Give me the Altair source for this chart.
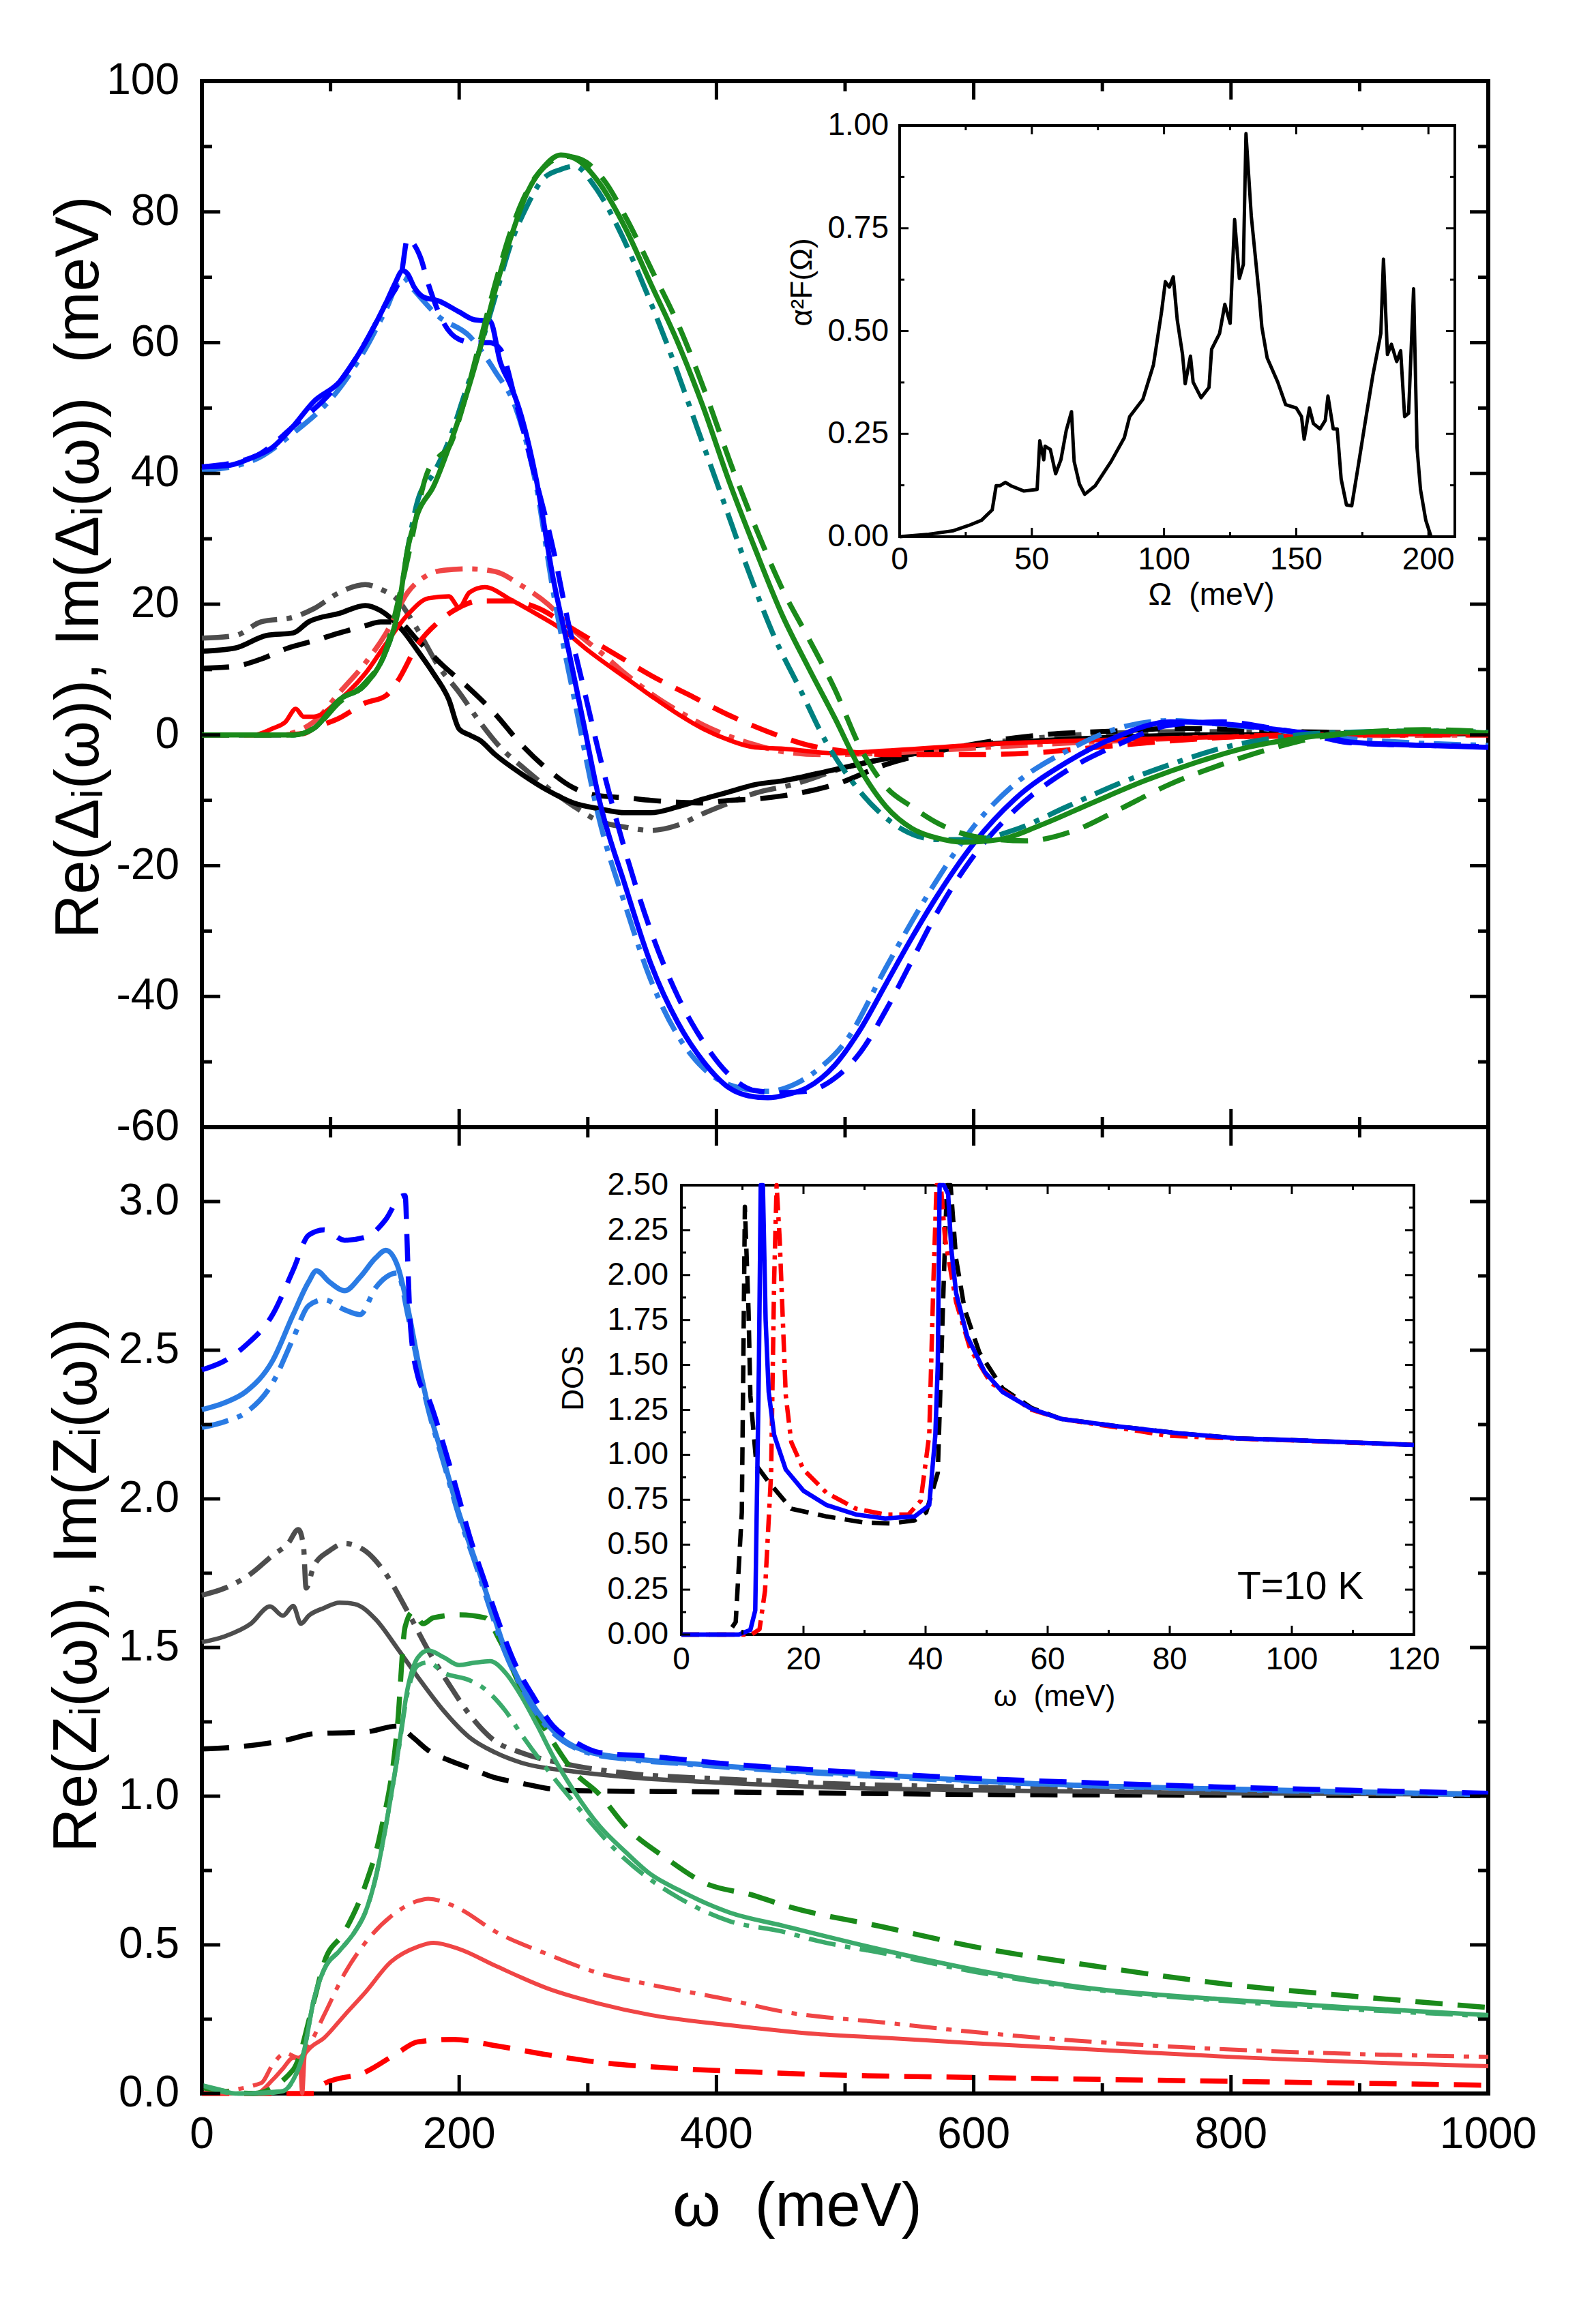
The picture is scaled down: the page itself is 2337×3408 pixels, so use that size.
import altair as alt
import pandas as pd

FONT = "Liberation Sans"
W, H, TOP_H = 1886, 2951, 1534

# ---------------- top panel: Re/Im Delta_i(omega) (meV) ----------------
DB_S_W = [0, 20, 40, 55, 70, 87, 107, 127, 143, 150, 156, 160, 165, 172, 184, 200, 212, 224, 232, 240, 248, 260, 273, 285, 297, 309, 329, 349, 370, 390, 410, 425, 440, 455, 470, 492, 512, 532, 552, 572, 600, 632, 672, 712, 753, 793, 833, 873, 893, 950, 1000]
DB_S = [41, 41.2, 42.5, 44, 47, 51, 54, 60, 66, 69, 71, 70.5, 68.5, 67, 66.4, 64.7, 63.5, 63.3, 57, 53.5, 49, 39, 24, 13, 1.5, -10, -23, -35, -44, -50, -54, -55.2, -55.5, -55, -54, -50.5, -45, -38, -31, -24.5, -16.6, -9.8, -4.2, -0.2, 2, 1.7, 0.9, -0.2, -1.1, -1.6, -1.9]
DB_D_W = [0, 40, 70, 107, 127, 143, 155, 160, 165, 170, 176, 188, 200, 212, 224, 232, 244, 257, 273, 285, 297, 309, 329, 349, 370, 390, 410, 430, 450, 470, 492, 512, 532, 552, 572, 600, 632, 672, 712, 753, 793, 833, 873, 893, 950, 1000]
DB_D = [41, 42.5, 47, 54, 60, 66, 70.5, 76, 75, 73, 69, 63, 60.5, 60, 60, 59, 51, 41, 28.5, 17, 7, -3, -17.7, -30, -40, -47, -52, -54.4, -54.7, -54.5, -52.5, -48.5, -42, -34.5, -27, -18.5, -11.5, -5.5, -1.5, 1.5, 2, 1, -0.5, -1.2, -1.6, -1.8]
DB_DD_W = [0, 40, 70, 107, 127, 143, 156, 165, 184, 208, 228, 244, 260, 273, 289, 309, 329, 349, 370, 390, 410, 440, 460, 480, 500, 532, 552, 572, 600, 632, 672, 712, 753, 793, 833, 873, 1000]
DB_DD = [40.4, 42, 46, 53, 59, 65, 70, 68, 64, 61, 55.6, 50, 38, 22, 6, -13, -26, -37.5, -46, -51, -53.5, -54.5, -53.5, -51, -47, -35.5, -28.5, -22, -14, -7.5, -2.5, 1, 2.2, 1.6, 0.8, -0.2, -1.6]

DG_S_W = [0, 40, 71, 87, 107, 127, 143, 152, 160, 168, 180, 192, 204, 216, 228, 240, 253, 265, 279, 293, 309, 329, 349, 370, 390, 410, 430, 451, 471, 492, 512, 532, 552, 572, 592, 620, 652, 692, 733, 773, 813, 853, 893, 954, 1000]
DG_S = [0, 0, 0, 1, 5.4, 7.7, 12.8, 18.4, 28.5, 34, 38, 44, 51, 59, 68, 76, 83, 86.7, 88.7, 87.8, 84.4, 77.6, 69, 60, 50, 38.7, 28.5, 18.4, 10.5, 2.6, -5.3, -11, -14.3, -15.8, -16.4, -16, -13.8, -10.4, -7, -4.2, -1.9, -0.5, 0.3, 0.6, 0.3]
DG_D_W = [0, 71, 87, 107, 127, 143, 152, 160, 175, 185, 192, 204, 216, 228, 240, 255, 270, 283, 295, 312, 330, 350, 372, 392, 412, 432, 452, 471, 492, 512, 532, 552, 572, 600, 640, 680, 712, 753, 793, 833, 873, 950, 1000]
DG_D = [0, 0, 1, 5, 8, 13, 20, 27, 40, 42.7, 44, 51, 60, 69, 77, 84, 87.5, 88.5, 88, 85, 79, 71, 62, 52, 41, 31, 22, 15, 7, -2, -8, -11, -13.5, -15.5, -16.2, -14.5, -11.5, -7.5, -4.5, -2, -0.2, 0.8, 0.5]
DT_DD_W = [0, 71, 87, 107, 127, 143, 152, 160, 168, 180, 192, 204, 216, 228, 240, 253, 265, 279, 290, 305, 325, 345, 365, 385, 405, 425, 445, 465, 485, 505, 525, 545, 572, 600, 632, 672, 712, 753, 793, 833, 873, 954, 1000]
DT_DD = [0, 0, 1, 5.4, 7.7, 12.8, 18.4, 28.5, 36, 40, 45, 52, 59, 67, 75, 81, 85, 86.5, 87, 84, 77, 68, 58, 47, 36, 25, 15, 7, -1, -7, -11.5, -14.5, -16, -16, -14.5, -11, -7.5, -4.5, -2, -0.5, 0.3, 0.6, 0.4]

DK_S_W = [0, 26, 50, 71, 83, 107, 127, 139, 156, 168, 180, 192, 200, 208, 216, 228, 248, 269, 289, 309, 329, 349, 370, 390, 410, 430, 452, 492, 532, 612, 692, 773, 1000]
DK_S = [12.8, 13.3, 15.2, 15.6, 17.3, 18.6, 19.8, 19, 16, 12.8, 9.4, 5.4, 0.9, 0, -0.8, -3, -5.9, -8.5, -10.4, -11.3, -11.9, -11.9, -11, -9.8, -8.7, -7.6, -7, -5.3, -3.6, -1.4, -0.5, 0, 0.2]
DK_D_W = [0, 26, 46, 67, 87, 107, 127, 139, 152, 168, 188, 208, 228, 248, 269, 289, 309, 329, 349, 370, 390, 410, 430, 452, 492, 532, 572, 612, 652, 712, 760, 850, 1000]
DK_D = [10.2, 10.5, 11.6, 13.3, 14.4, 15.6, 16.7, 17.3, 17.3, 14.4, 10.5, 7.1, 3.2, -1.4, -5.3, -8.1, -9.3, -9.6, -10, -10.3, -10.4, -10, -9.8, -9.3, -7.6, -4.5, -2.5, -1, 0, 0.6, 1, 0.5, 0.2]
DK_DD_W = [0, 26, 46, 71, 87, 107, 127, 139, 152, 168, 184, 200, 216, 232, 248, 269, 289, 309, 329, 349, 370, 390, 410, 430, 459, 500, 550, 600, 680, 760, 1000]
DK_DD = [14.8, 15.2, 17.3, 18, 19.3, 21.8, 23, 22.3, 20.7, 16, 10.5, 6.5, 2, -1.9, -4.7, -8.1, -10.9, -13.2, -14.1, -14.6, -13.8, -12, -10.4, -8.9, -7.6, -5, -3, -1.5, 0, 0.5, 0.2]

DR_S_W = [0, 40, 55, 65, 73, 79, 87, 107, 127, 143, 160, 176, 192, 200, 208, 220, 240, 261, 281, 301, 329, 349, 370, 390, 410, 430, 452, 492, 532, 612, 692, 800, 1000]
DR_S = [0, 0, 1, 2, 4, 2.8, 2.8, 5.4, 9.4, 13.9, 18.4, 20.9, 21.2, 19.5, 21.8, 22.6, 20.7, 18.4, 16, 12.8, 8.8, 6, 3.2, 0.9, -0.8, -1.9, -2.1, -2.8, -2.4, -1.4, -0.8, -0.3, 0.3]
DR_D_W = [0, 60, 79, 87, 107, 127, 143, 152, 168, 184, 200, 216, 240, 260, 290, 320, 350, 380, 410, 440, 470, 500, 530, 560, 600, 650, 700, 760, 850, 1000]
DR_D = [0, 0, 0.2, 1, 2.6, 4.9, 6, 8.2, 13.9, 17.3, 19.5, 20.5, 20.5, 19.5, 16, 12.5, 9, 6, 3, 0.5, -1.5, -2.5, -3, -3, -3, -2.7, -1.8, -0.8, 0, 0]
DR_DD_W = [0, 60, 87, 107, 127, 143, 160, 176, 188, 208, 228, 248, 269, 289, 309, 329, 350, 370, 390, 410, 430, 450, 480, 530, 600, 700, 800, 1000]
DR_DD = [0, 0, 2, 6.5, 11, 15.5, 21.8, 24.5, 25.2, 25.4, 25, 22.9, 20, 16, 12.8, 9.4, 6.2, 3.7, 1.5, -0.2, -1.5, -2.5, -3, -2.8, -2, -1, -0.3, 0]

# ---------------- bottom panel: Re/Im Z_i(omega) ----------------
ZB_D_W = [0, 18, 34, 55, 71, 83, 95, 111, 127, 143, 154, 158, 160, 162, 168, 176, 188, 200, 208, 220, 232, 244, 257, 273, 289, 309, 349, 410, 478, 532, 600, 692, 800, 893, 1000]
ZB_D = [2.434, 2.465, 2.516, 2.62, 2.77, 2.887, 2.905, 2.87, 2.88, 2.94, 3.015, 3.02, 2.8, 2.59, 2.41, 2.34, 2.18, 2.0, 1.876, 1.72, 1.57, 1.44, 1.34, 1.236, 1.185, 1.147, 1.134, 1.108, 1.088, 1.075, 1.06, 1.045, 1.03, 1.02, 1.01]
ZB_S_W = [0, 18, 34, 55, 71, 83, 89, 99, 111, 123, 135, 143, 152, 160, 168, 176, 188, 200, 212, 224, 236, 248, 265, 281, 297, 329, 370, 451, 532, 600, 692, 800, 893, 1000]
ZB_S = [2.30, 2.324, 2.36, 2.465, 2.62, 2.73, 2.767, 2.73, 2.70, 2.746, 2.81, 2.836, 2.785, 2.644, 2.465, 2.31, 2.13, 1.95, 1.80, 1.646, 1.49, 1.377, 1.26, 1.19, 1.154, 1.129, 1.113, 1.088, 1.07, 1.052, 1.035, 1.024, 1.015, 1.006]
ZB_DD_W = [0, 18, 34, 55, 71, 83, 95, 111, 123, 135, 152, 160, 168, 176, 188, 200, 212, 224, 236, 248, 265, 281, 297, 329, 370, 451, 600, 800, 1000]
ZB_DD = [2.24, 2.26, 2.29, 2.39, 2.54, 2.65, 2.67, 2.636, 2.62, 2.71, 2.76, 2.62, 2.45, 2.30, 2.12, 1.94, 1.79, 1.63, 1.48, 1.37, 1.25, 1.185, 1.15, 1.125, 1.11, 1.085, 1.05, 1.022, 1.005]

ZK_S_W = [0, 18, 38, 53, 63, 71, 77, 83, 95, 107, 119, 135, 152, 168, 188, 208, 228, 248, 289, 329, 410, 478, 600, 800, 1000]
ZK_S = [1.518, 1.538, 1.58, 1.638, 1.607, 1.64, 1.58, 1.607, 1.633, 1.651, 1.646, 1.595, 1.497, 1.40, 1.287, 1.198, 1.147, 1.113, 1.083, 1.065, 1.044, 1.031, 1.02, 1.01, 1.005]
ZK_DD_W = [0, 18, 38, 55, 67, 75, 79, 81, 87, 99, 111, 127, 143, 160, 176, 192, 208, 228, 248, 289, 329, 410, 478, 600, 800, 1000]
ZK_DD = [1.676, 1.70, 1.748, 1.81, 1.85, 1.897, 1.84, 1.70, 1.774, 1.825, 1.85, 1.825, 1.748, 1.62, 1.49, 1.377, 1.275, 1.185, 1.147, 1.103, 1.078, 1.057, 1.044, 1.03, 1.015, 1.008]
ZK_D_W = [0, 26, 67, 87, 127, 152, 164, 176, 192, 208, 228, 248, 269, 289, 410, 478, 600, 1000]
ZK_D = [1.159, 1.165, 1.19, 1.21, 1.216, 1.236, 1.198, 1.154, 1.121, 1.095, 1.062, 1.044, 1.026, 1.019, 1.014, 1.011, 1.006, 1.002]

ZG_S_W = [0, 14, 26, 46, 63, 71, 79, 87, 95, 107, 119, 127, 135, 143, 152, 160, 168, 176, 188, 200, 212, 224, 236, 248, 261, 273, 289, 309, 329, 349, 370, 410, 451, 532, 600, 692, 800, 893, 1000]
ZG_S = [0.028, 0.013, 0, 0, 0.008, 0.046, 0.136, 0.315, 0.417, 0.48, 0.545, 0.609, 0.724, 0.90, 1.134, 1.364, 1.467, 1.49, 1.467, 1.441, 1.449, 1.454, 1.415, 1.339, 1.236, 1.134, 1.019, 0.90, 0.814, 0.737, 0.686, 0.609, 0.565, 0.48, 0.417, 0.353, 0.315, 0.289, 0.264]
ZG_D_W = [0, 40, 71, 87, 95, 111, 127, 139, 152, 158, 164, 172, 180, 200, 220, 232, 248, 269, 289, 309, 329, 362, 390, 430, 451, 532, 600, 692, 800, 893, 1000]
ZG_D = [0.02, 0, 0.08, 0.31, 0.44, 0.545, 0.70, 0.88, 1.236, 1.57, 1.62, 1.58, 1.6, 1.61, 1.6, 1.52, 1.364, 1.21, 1.083, 1.006, 0.90, 0.788, 0.71, 0.665, 0.635, 0.558, 0.494, 0.43, 0.366, 0.328, 0.289]
ZG_DD_W = [0, 26, 63, 71, 79, 87, 95, 107, 119, 127, 135, 143, 152, 160, 168, 176, 188, 208, 220, 236, 248, 289, 329, 370, 410, 451, 478, 532, 600, 692, 800, 1000]
ZG_DD = [0.028, 0, 0.008, 0.046, 0.136, 0.315, 0.417, 0.48, 0.545, 0.609, 0.724, 0.90, 1.13, 1.35, 1.44, 1.45, 1.415, 1.39, 1.36, 1.287, 1.21, 0.98, 0.788, 0.66, 0.58, 0.545, 0.514, 0.47, 0.41, 0.35, 0.31, 0.26]

ZR_S_W = [0, 42, 55, 63, 71, 76, 78, 80, 83, 95, 111, 127, 147, 168, 180, 200, 228, 269, 309, 349, 410, 478, 532, 600, 692, 800, 1000]
ZR_S = [0, 0, 0.046, 0.084, 0.12, 0.12, 0.0, 0.13, 0.148, 0.187, 0.264, 0.34, 0.443, 0.494, 0.507, 0.486, 0.43, 0.353, 0.302, 0.264, 0.23, 0.2, 0.187, 0.169, 0.148, 0.123, 0.092]
ZR_DD_W = [0, 46, 55, 65, 75, 83, 95, 111, 127, 147, 168, 176, 200, 228, 269, 309, 349, 410, 451, 532, 600, 692, 800, 1000]
ZR_DD = [0, 0.035, 0.097, 0.136, 0.12, 0.16, 0.264, 0.404, 0.507, 0.596, 0.648, 0.655, 0.622, 0.545, 0.468, 0.404, 0.366, 0.315, 0.276, 0.238, 0.207, 0.174, 0.148, 0.123]
ZR_D_W = [0, 87, 95, 127, 152, 168, 196, 228, 269, 309, 370, 430, 478, 600, 800, 1000]
ZR_D = [0, 0, 0.033, 0.072, 0.136, 0.174, 0.182, 0.161, 0.13, 0.105, 0.084, 0.072, 0.064, 0.054, 0.041, 0.028]

# ---------------- inset 1: alpha^2 F(Omega) ----------------
OMEGA = [0, 11, 20, 26, 31, 35, 36.5, 38, 40, 42, 47, 52, 53, 54.5, 55, 57, 59, 61, 63, 65, 66, 68, 70, 74, 80, 85, 87, 92, 96, 99, 100.5, 102, 103.5, 105, 107, 108, 110, 111, 114, 117, 118, 121, 123, 125, 126.7, 128.5, 130, 131, 133, 136, 137, 139, 143, 146, 150, 152, 153, 155, 156.5, 159, 161, 162, 164, 165.5, 167, 169, 171, 173.5, 176, 179, 182, 183, 184.5, 186, 188, 189.5, 191, 192.5, 194.4, 195.7, 197, 199, 201]
A2F = [0, 0.006, 0.014, 0.027, 0.04, 0.065, 0.124, 0.124, 0.132, 0.124, 0.111, 0.115, 0.233, 0.187, 0.22, 0.212, 0.153, 0.187, 0.258, 0.304, 0.183, 0.128, 0.103, 0.124, 0.183, 0.241, 0.292, 0.334, 0.418, 0.544, 0.62, 0.607, 0.632, 0.527, 0.443, 0.372, 0.439, 0.376, 0.338, 0.363, 0.456, 0.494, 0.565, 0.519, 0.771, 0.628, 0.662, 0.98, 0.78, 0.586, 0.51, 0.435, 0.376, 0.321, 0.313, 0.292, 0.237, 0.313, 0.275, 0.262, 0.283, 0.342, 0.262, 0.262, 0.14, 0.077, 0.075, 0.174, 0.275, 0.393, 0.494, 0.675, 0.443, 0.468, 0.426, 0.452, 0.292, 0.30, 0.603, 0.216, 0.115, 0.04, 0]

# ---------------- inset 2: DOS at T=10 K ----------------
DOS_W_BLUE = [0, 9.4, 11.3, 12.1, 12.7, 13.0, 13.35, 13.8, 14.3, 15.2, 17.1, 20, 23.8, 28.6, 33.4, 38.2, 40.6, 41.6, 42.0, 42.3, 43.0, 43.7, 44.2, 45, 46.8, 49.7, 52.6, 57.4, 62.2, 71.8, 81.4, 91, 100.6, 120]
DOS_BLUE = [0, 0, 0.026, 0.135, 1.5, 3.5, 2.5, 1.75, 1.35, 1.11, 0.918, 0.80, 0.72, 0.668, 0.646, 0.657, 0.72, 1.11, 1.5, 2.6, 3.5, 2.45, 2.15, 1.9, 1.66, 1.46, 1.35, 1.255, 1.2, 1.157, 1.12, 1.092, 1.081, 1.055]
DOS_W_BLACK = [0, 7.5, 8.9, 9.9, 10.4, 11.0, 11.3, 12.3, 14.2, 18, 23.8, 29.8, 34.4, 38.2, 40.1, 42, 43, 43.5, 44.1, 45, 46.4, 48.8, 52.6, 57.4, 62.2, 71.8, 81.4, 91, 100.6, 120]
DOS_BLACK = [0, 0, 0.07, 0.68, 2.38, 1.8, 1.33, 0.94, 0.853, 0.70, 0.657, 0.624, 0.618, 0.635, 0.68, 0.9, 1.99, 3.0, 3.0, 2.09, 1.81, 1.57, 1.37, 1.26, 1.2, 1.157, 1.12, 1.092, 1.081, 1.055]
DOS_W_RED = [0, 11.5, 12.8, 13.7, 14.7, 15.2, 15.6, 16.1, 17.1, 18, 20, 23.8, 28.6, 33.4, 37.2, 39.2, 40.6, 41.3, 41.8, 42.5, 43.2, 45, 47.3, 50.7, 57.4, 62.2, 71.8, 79.5, 91, 100.6, 120]
DOS_RED = [0, 0, 0.03, 0.244, 0.9, 1.98, 3.2, 2.2, 1.33, 1.07, 0.918, 0.788, 0.70, 0.668, 0.668, 0.744, 1.11, 1.98, 3.2, 3.0, 2.2, 1.85, 1.59, 1.40, 1.25, 1.2, 1.15, 1.107, 1.09, 1.08, 1.055]

# ---------------- ticks and labels ----------------
X_MAJOR = [0, 200, 400, 600, 800, 1000]
X_MINOR = [100, 300, 500, 700, 900]
TOP_MAJOR = [-60, -40, -20, 0, 20, 40, 60, 80, 100]
TOP_MINOR = [-50, -30, -10, 10, 30, 50, 70, 90]
BOT_MAJOR = [0, 0.5, 1.0, 1.5, 2.0, 2.5, 3.0]
BOT_LABELS = ["0.0", "0.5", "1.0", "1.5", "2.0", "2.5", "3.0"]
BOT_MINOR = [0.25, 0.75, 1.25, 1.75, 2.25, 2.75]
IN1_X_MAJOR = [0, 50, 100, 150, 200]
IN1_X_MINOR = [25, 75, 125, 175]
IN1_Y_MAJOR = [0, 0.25, 0.5, 0.75, 1.0]
IN1_Y_LABELS = ["0.00", "0.25", "0.50", "0.75", "1.00"]
IN1_Y_MINOR = [0.125, 0.375, 0.625, 0.875]
IN2_X_MAJOR = [0, 20, 40, 60, 80, 100, 120]
IN2_X_MINOR = [10, 30, 50, 70, 90, 110]
IN2_Y_MAJOR = [0, 0.25, 0.5, 0.75, 1.0, 1.25, 1.5, 1.75, 2.0, 2.25, 2.5]
IN2_Y_LABELS = ["0.00", "0.25", "0.50", "0.75", "1.00", "1.25", "1.50", "1.75", "2.00", "2.25", "2.50"]
IN2_Y_MINOR = [0.125, 0.375, 0.625, 0.875, 1.125, 1.375, 1.625, 1.875, 2.125, 2.375]

DASH = [40, 22]
DASHDOT = [40, 14, 8, 14]
IN_DASH = [26, 14]
IN_DASHDOT = [26, 10, 6, 10]

# ---------------- scales (pixel ranges place panels & insets) ----------------
x_main = alt.Scale(domain=[0, 1000], range=[0, W], nice=False, zero=False)
y_top = alt.Scale(domain=[-60, 100], range=[TOP_H, 0], nice=False, zero=False)
y_bot = alt.Scale(domain=[0, 3.25], range=[H, TOP_H], nice=False, zero=False)
I1X0, I1X1, I1Y0, I1Y1 = 1023, 1837, 668, 65
I2X0, I2X1, I2Y0, I2Y1 = 703, 1777, 2278, 1619
x_in1 = alt.Scale(domain=[0, 210], range=[I1X0, I1X1], nice=False, zero=False)
y_in1 = alt.Scale(domain=[0, 1], range=[I1Y0, I1Y1], nice=False, zero=False)
x_in2 = alt.Scale(domain=[0, 120], range=[I2X0, I2X1], nice=False, zero=False)
y_in2 = alt.Scale(domain=[0, 2.5], range=[I2Y0, I2Y1], nice=False, zero=False, clamp=True)


def line(xs, ys, xsc, ysc, color, width, dash=None, interp="monotone"):
    df = pd.DataFrame({"x": xs, "y": ys})
    kw = dict(color=color, strokeWidth=width, interpolate=interp, strokeCap="butt", strokeJoin="round")
    if dash is not None:
        kw["strokeDash"] = dash
    return alt.Chart(df).mark_line(**kw).encode(
        x=alt.X("x:Q", scale=xsc, axis=None), y=alt.Y("y:Q", scale=ysc, axis=None))


def hticks(vals, ysc, x0, x1, w):
    df = pd.DataFrame({"v": vals})
    return alt.Chart(df).mark_rule(color="black", strokeWidth=w).encode(
        y=alt.Y("v:Q", scale=ysc, axis=None), x=alt.value(x0), x2=alt.value(x1))


def vticks(vals, xsc, y0, y1, w):
    df = pd.DataFrame({"v": vals})
    return alt.Chart(df).mark_rule(color="black", strokeWidth=w).encode(
        x=alt.X("v:Q", scale=xsc, axis=None), y=alt.value(y0), y2=alt.value(y1))


def ylabels(vals, texts, ysc, xpos, size):
    df = pd.DataFrame({"v": vals, "t": texts})
    return alt.Chart(df).mark_text(align="right", baseline="middle", font=FONT, fontSize=size, color="black").encode(
        y=alt.Y("v:Q", scale=ysc, axis=None), x=alt.value(xpos), text="t:N")


def xlabels(vals, texts, xsc, ypos, size):
    df = pd.DataFrame({"v": vals, "t": texts})
    return alt.Chart(df).mark_text(align="center", baseline="middle", font=FONT, fontSize=size, color="black").encode(
        x=alt.X("v:Q", scale=xsc, axis=None), y=alt.value(ypos), text="t:N")


def free_text(text, x, y, size, angle=0, align="center"):
    df = pd.DataFrame({"t": [text]})
    kw = dict(align=align, baseline="middle", font=FONT, fontSize=size, color="black")
    if angle:
        kw["angle"] = angle
    return alt.Chart(df).mark_text(**kw).encode(text="t:N", x=alt.value(x), y=alt.value(y))


def frame(xsc, ysc, x0, x1, y0, y1, sw):
    df = pd.DataFrame({"a": [x0], "b": [x1], "c": [y0], "d": [y1]})
    return alt.Chart(df).mark_rect(fill="white", stroke="black", strokeWidth=sw).encode(
        x=alt.X("a:Q", scale=xsc, axis=None), x2="b:Q",
        y=alt.Y("c:Q", scale=ysc, axis=None), y2="d:Q")


BLUE = "#0000FF"
LBLUE = "#2A7BE4"
GREEN = "#1A8A1A"
TEAL = "#00807F"
GRAY = "#4D4D4D"
RED = "#FF0000"
LRED = "#F04545"
MGREEN = "#3BAA6B"

LW = 7.5
NBSP = "\u00a0"

# ---------------- top panel layer ----------------
top = alt.layer(
    line(DK_DD_W, DK_DD, x_main, y_top, GRAY, LW, DASHDOT),
    line(DK_D_W, DK_D, x_main, y_top, "black", LW, DASH),
    line(DK_S_W, DK_S, x_main, y_top, "black", LW),
    line(DR_DD_W, DR_DD, x_main, y_top, LRED, LW, DASHDOT),
    line(DR_D_W, DR_D, x_main, y_top, RED, LW, DASH),
    line(DR_S_W, DR_S, x_main, y_top, RED, 6.5),
    line(DB_DD_W, DB_DD, x_main, y_top, LBLUE, LW, DASHDOT),
    line(DB_D_W, DB_D, x_main, y_top, BLUE, LW, DASH),
    line(DB_S_W, DB_S, x_main, y_top, BLUE, LW),
    line(DT_DD_W, DT_DD, x_main, y_top, TEAL, LW, DASHDOT),
    line(DG_D_W, DG_D, x_main, y_top, GREEN, LW, DASH),
    line(DG_S_W, DG_S, x_main, y_top, GREEN, LW),
    hticks([-60], y_top, 0, W, 6),
    hticks(TOP_MAJOR, y_top, 0, 27, 5),
    hticks(TOP_MINOR, y_top, 0, 15, 5),
    hticks(TOP_MAJOR, y_top, W, W - 27, 5),
    hticks(TOP_MINOR, y_top, W, W - 15, 5),
    vticks(X_MAJOR, x_main, 0, 27, 5),
    vticks(X_MINOR, x_main, 0, 15, 5),
    vticks(X_MAJOR, x_main, TOP_H, TOP_H - 27, 5),
    vticks(X_MINOR, x_main, TOP_H, TOP_H - 15, 5),
    ylabels(TOP_MAJOR, [str(v) for v in TOP_MAJOR], y_top, -33, 64),
    free_text("Re(Δᵢ(ω)), Im(Δᵢ(ω))" + NBSP + NBSP + "(meV)", -179, 713, 90, angle=270),
)

# ---------------- bottom panel layer ----------------
bot = alt.layer(
    line(ZR_D_W, ZR_D, x_main, y_bot, RED, LW, DASH),
    line(ZR_DD_W, ZR_DD, x_main, y_bot, LRED, 6, DASHDOT),
    line(ZR_S_W, ZR_S, x_main, y_bot, LRED, 6),
    line(ZK_D_W, ZK_D, x_main, y_bot, "black", LW, DASH),
    line(ZK_DD_W, ZK_DD, x_main, y_bot, GRAY, LW, DASHDOT),
    line(ZK_S_W, ZK_S, x_main, y_bot, GRAY, 6.5),
    line(ZG_D_W, ZG_D, x_main, y_bot, GREEN, LW, DASH),
    line(ZG_DD_W, ZG_DD, x_main, y_bot, MGREEN, 6.5, DASHDOT),
    line(ZG_S_W, ZG_S, x_main, y_bot, MGREEN, 6.5),
    line(ZB_DD_W, ZB_DD, x_main, y_bot, LBLUE, LW, DASHDOT),
    line(ZB_S_W, ZB_S, x_main, y_bot, LBLUE, LW),
    line(ZB_D_W, ZB_D, x_main, y_bot, BLUE, LW, DASH),
    hticks(BOT_MAJOR, y_bot, 0, 27, 5),
    hticks(BOT_MINOR, y_bot, 0, 15, 5),
    hticks(BOT_MAJOR, y_bot, W, W - 27, 5),
    hticks(BOT_MINOR, y_bot, W, W - 15, 5),
    vticks(X_MAJOR, x_main, TOP_H, TOP_H + 27, 5),
    vticks(X_MINOR, x_main, TOP_H, TOP_H + 15, 5),
    vticks(X_MAJOR, x_main, H, H - 27, 5),
    vticks(X_MINOR, x_main, H, H - 15, 5),
    ylabels(BOT_MAJOR, BOT_LABELS, y_bot, -33, 64),
    xlabels(X_MAJOR, [str(v) for v in X_MAJOR], x_main, 3012, 64),
    free_text("Re(Zᵢ(ω)), Im(Zᵢ(ω))", -182, 2206, 90, angle=270),
    free_text("ω" + NBSP + NBSP + "(meV)", 873, 3118, 90),
)

# ---------------- inset 1 layer ----------------
in1 = alt.layer(
    frame(x_in1, y_in1, 0, 210, 0, 1, 4),
    line(OMEGA, A2F, x_in1, y_in1, "black", 5, interp="linear"),
    hticks(IN1_Y_MAJOR, y_in1, I1X0, I1X0 + 13, 3),
    hticks(IN1_Y_MINOR, y_in1, I1X0, I1X0 + 7, 3),
    hticks(IN1_Y_MAJOR, y_in1, I1X1, I1X1 - 13, 3),
    hticks(IN1_Y_MINOR, y_in1, I1X1, I1X1 - 7, 3),
    vticks(IN1_X_MAJOR, x_in1, I1Y0, I1Y0 - 13, 3),
    vticks(IN1_X_MINOR, x_in1, I1Y0, I1Y0 - 7, 3),
    vticks(IN1_X_MAJOR, x_in1, I1Y1, I1Y1 + 13, 3),
    vticks(IN1_X_MINOR, x_in1, I1Y1, I1Y1 + 7, 3),
    ylabels(IN1_Y_MAJOR, IN1_Y_LABELS, y_in1, I1X0 - 16, 46),
    xlabels(IN1_X_MAJOR, [str(v) for v in IN1_X_MAJOR], x_in1, 702, 46),
    free_text("Ω" + NBSP + NBSP + "(meV)", 1480, 754, 46),
    free_text("α²F(Ω)", 881, 295, 44, angle=270),
)

# ---------------- inset 2 layer ----------------
in2 = alt.layer(
    frame(x_in2, y_in2, 0, 120, 0, 2.5, 4),
    line(DOS_W_BLACK, DOS_BLACK, x_in2, y_in2, "black", 6.5, IN_DASH, interp="linear"),
    line(DOS_W_RED, DOS_RED, x_in2, y_in2, RED, 6.5, IN_DASHDOT, interp="linear"),
    line(DOS_W_BLUE, DOS_BLUE, x_in2, y_in2, BLUE, 6.5, interp="linear"),
    hticks(IN2_Y_MAJOR, y_in2, I2X0, I2X0 + 13, 3),
    hticks(IN2_Y_MINOR, y_in2, I2X0, I2X0 + 7, 3),
    hticks(IN2_Y_MAJOR, y_in2, I2X1, I2X1 - 13, 3),
    hticks(IN2_Y_MINOR, y_in2, I2X1, I2X1 - 7, 3),
    vticks(IN2_X_MAJOR, x_in2, I2Y0, I2Y0 - 13, 3),
    vticks(IN2_X_MINOR, x_in2, I2Y0, I2Y0 - 7, 3),
    vticks(IN2_X_MAJOR, x_in2, I2Y1, I2Y1 + 13, 3),
    vticks(IN2_X_MINOR, x_in2, I2Y1, I2Y1 + 7, 3),
    ylabels(IN2_Y_MAJOR, IN2_Y_LABELS, y_in2, I2X0 - 19, 46),
    xlabels(IN2_X_MAJOR, [str(v) for v in IN2_X_MAJOR], x_in2, 2315, 46),
    free_text("ω" + NBSP + NBSP + "(meV)", 1250, 2370, 44),
    free_text("DOS", 546, 1902, 44, angle=270),
    free_text("T=10 K", 1518, 2209, 57, align="left"),
)

chart = alt.layer(top, bot, in1, in2).resolve_scale(
    x="independent", y="independent"
).properties(
    width=W, height=H,
    autosize=alt.AutoSizeParams(type="none"),
    padding={"left": 288, "top": 111, "right": 120, "bottom": 300},
).configure_view(stroke="black", strokeWidth=6)

chart.save("out.html", embed_options={"renderer": "svg", "actions": False})
